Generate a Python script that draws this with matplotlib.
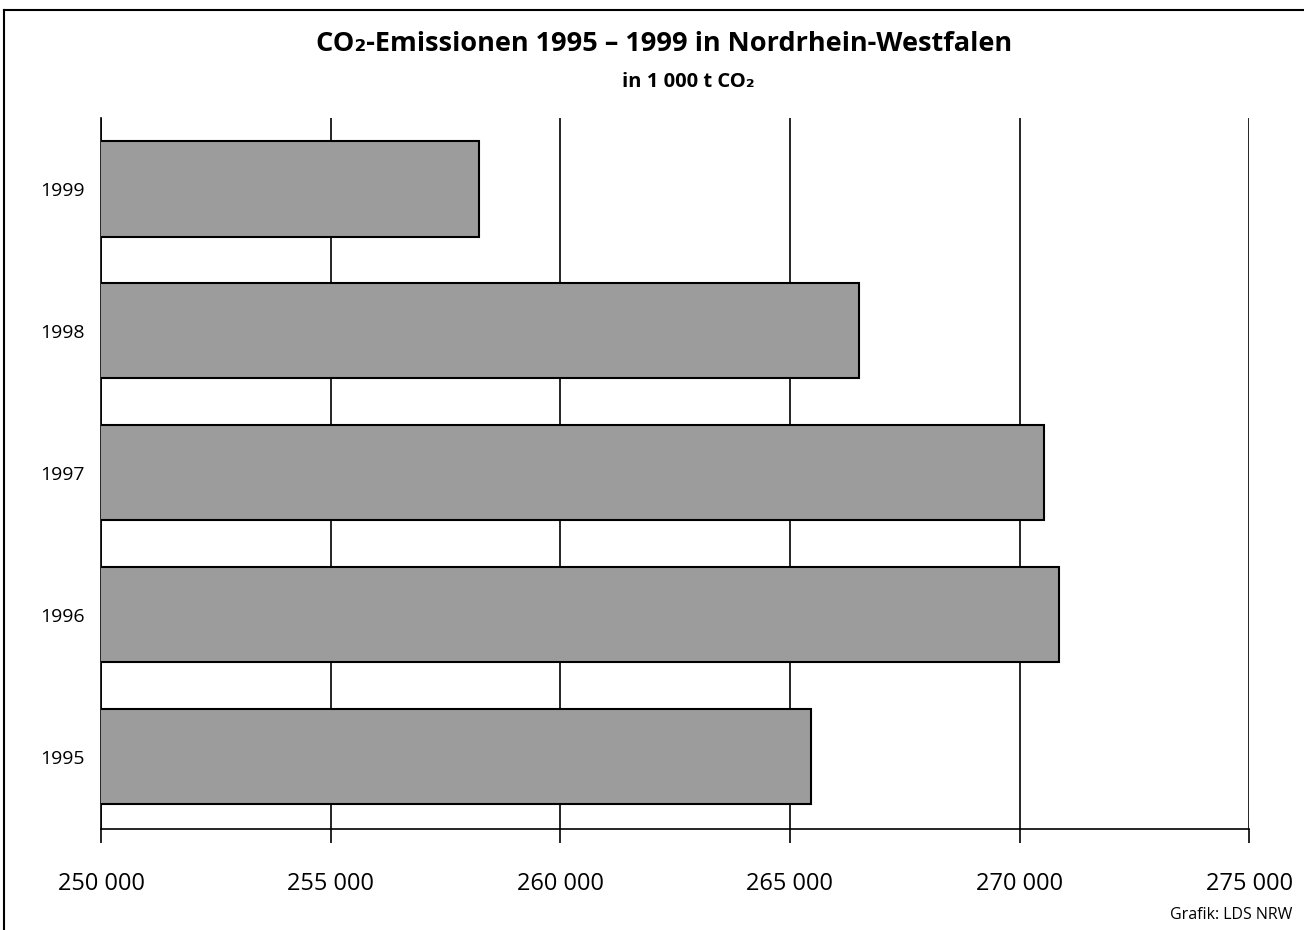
import matplotlib
matplotlib.use("Agg")
import matplotlib.pyplot as plt
from matplotlib.lines import Line2D
from matplotlib.ticker import FuncFormatter

# Daten (in 1 000 t CO2)
jahre = ["1995", "1996", "1997", "1998", "1999"]
emissionen = [265450, 270850, 270530, 266500, 258220]
x_ticks = [250000, 255000, 260000, 265000, 270000, 275000]

plt.rcParams["font.family"] = ["Open Sans", "DejaVu Sans"]

fig = plt.figure(figsize=(13.04, 9.3), dpi=100)
ax = fig.add_axes([0.0775, 0.1086, 0.8805, 0.7645])

ax.barh(jahre, emissionen, height=0.67, color="#9c9c9c",
        edgecolor="black", linewidth=1.5, zorder=3)

ax.set_xlim(250000, 275000)
ax.set_ylim(-0.51, 4.5)
ax.set_xticks(x_ticks)
ax.xaxis.set_major_formatter(FuncFormatter(lambda v, p: f"{int(v):,}".replace(",", " ")))

ax.grid(axis="x", color="black", linewidth=1.2, zorder=0)
ax.set_axisbelow(True)
for s in ["top", "right"]:
    ax.spines[s].set_visible(False)
ax.spines["left"].set_linewidth(1.2)
ax.spines["bottom"].set_linewidth(1.2)

ax.tick_params(axis="x", direction="out", length=10, width=1.2, pad=21, labelsize=17)
ax.tick_params(axis="y", length=0, pad=12, labelsize=14)

# Titel
fig.text(0.509, 0.953, "CO\u2082-Emissionen 1995 \u2013 1999 in Nordrhein-Westfalen",
         ha="center", va="center", fontsize=19.5, fontweight="bold")
fig.text(0.528, 0.912, "in 1 000 t CO\u2082", ha="center", va="center",
         fontsize=14.5, fontweight="bold")
fig.text(0.991, 0.016, "Grafik: LDS NRW", ha="right", va="center", fontsize=11.5)

# Rahmen
fig.add_artist(Line2D([0.003, 0.003], [0.0, 0.989], color="black", linewidth=1.5))
fig.add_artist(Line2D([0.003, 1.0], [0.989, 0.989], color="black", linewidth=1.5))

plt.savefig("out.png", dpi=100)
